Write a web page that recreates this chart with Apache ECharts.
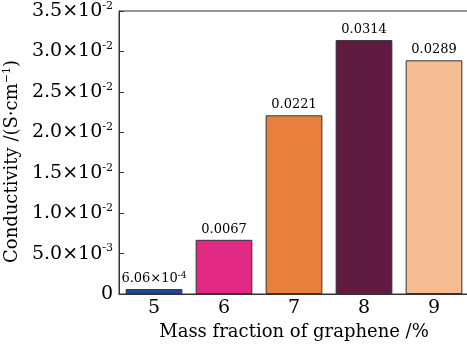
<!DOCTYPE html>
<html><head><meta charset="utf-8">
<script src="https://cdn.jsdelivr.net/npm/echarts@6/dist/echarts.min.js"></script>
<style>html,body{margin:0;padding:0;background:#fff}#c{width:467px;height:347px}</style>
</head><body><div id="c"></div>
<script>
const categories = ['5', '6', '7', '8', '9'];
const conductivity = [0.000606, 0.0067, 0.0221, 0.0314, 0.0289];
const barColors = ['#22489a', '#e22a84', '#ea803e', '#601c40', '#f6bd95'];
const barLabelMantissa = ['6.06', '0.0067', '0.0221', '0.0314', '0.0289'];
const barLabelExponent = ['-4', '', '', '', ''];
const yTickMantissa = ['0', '5.0', '1.0', '1.5', '2.0', '2.5', '3.0', '3.5'];
const yTickExponent = ['', '-3', '-2', '-2', '-2', '-2', '-2', '-2'];
const yStep = 0.005, yMax = 0.035;

const FONT = 'DejaVu Serif';
const TXT = '#000';
const chart = echarts.init(document.getElementById('c'));
chart.setOption({
  animation: false,
  textStyle: {fontFamily: FONT},
  grid: {left: 119, right: -2, top: 11, bottom: 53, show: true, borderColor: '#333', borderWidth: 1, outerBoundsMode: 'none', containLabel: false},
  xAxis: {
    type: 'category', data: categories,
    axisLine: {lineStyle: {color: '#333', width: 1}},
    axisTick: {inside: true, alignWithLabel: true, length: 5, lineStyle: {color: '#333'}},
    axisLabel: {color: TXT, fontFamily: FONT, fontSize: 19, margin: 5},
    name: 'Mass fraction of graphene /%', nameLocation: 'middle', nameGap: 26,
    nameTextStyle: {color: TXT, fontFamily: FONT, fontSize: 18}
  },
  yAxis: {
    type: 'value', min: 0, max: yMax, interval: yStep,
    splitLine: {show: false},
    axisLine: {show: true, lineStyle: {color: '#333', width: 1}},
    axisTick: {show: true, inside: true, length: 5, lineStyle: {color: '#333'}},
    axisLabel: {
      margin: 6, color: TXT,
      formatter: function (v) {
        const i = Math.round(v / yStep);
        if (!yTickExponent[i]) return '{m|' + yTickMantissa[i] + '}';
        return '{m|' + yTickMantissa[i] + '×10}{s|' + yTickExponent[i] + '}';
      },
      rich: {
        m: {fontFamily: FONT, fontSize: 19, color: TXT, lineHeight: 21},
        s: {fontFamily: FONT, fontSize: 11, color: TXT, verticalAlign: 'top', lineHeight: 21, padding: [0, 0, 7, 0]}
      }
    },
    name: '{m|Conductivity /(S·cm}{s|−1}{m|)}', nameLocation: 'middle', nameGap: 96,
    nameTextStyle: {
      padding: [0, 18, 0, 0],
      rich: {
        m: {fontFamily: FONT, fontSize: 18, color: TXT, lineHeight: 21},
        s: {fontFamily: FONT, fontSize: 11, color: TXT, verticalAlign: 'top', lineHeight: 21, padding: [0, 0, 7, 0]}
      }
    }
  },
  series: [{
    type: 'bar', barWidth: '81%',
    data: conductivity.map((v, i) => ({value: v, itemStyle: {color: barColors[i]}})),
    itemStyle: {borderColor: '#333', borderWidth: 1},
    label: {
      show: true, position: 'top', distance: 3,
      formatter: function (p) {
        const i = p.dataIndex;
        if (!barLabelExponent[i]) return '{m|' + barLabelMantissa[i] + '}';
        return '{m|' + barLabelMantissa[i] + '×10}{s|' + barLabelExponent[i] + '}';
      },
      rich: {
        m: {fontFamily: FONT, fontSize: 13, color: TXT, lineHeight: 15},
        s: {fontFamily: FONT, fontSize: 9, color: TXT, verticalAlign: 'top', lineHeight: 15, padding: [0, 0, 5, 0]}
      }
    }
  }]
});
</script></body></html>
